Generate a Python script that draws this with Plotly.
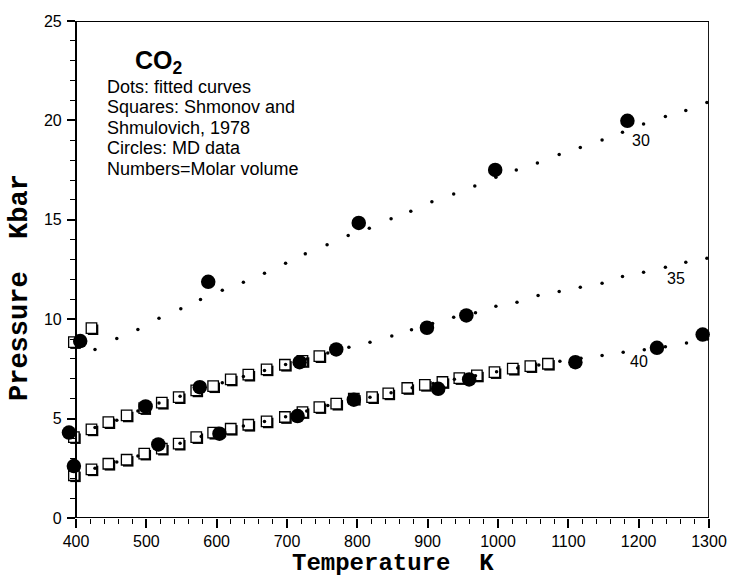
import plotly.graph_objects as go

# ---- Fitted curves (dots), molar volume 30 / 35 / 40 ----
fit30_T = [427, 458, 488, 518, 549, 577, 608, 638, 668, 698, 726, 757, 787, 817, 848,
           876, 906, 937, 967, 997, 1026, 1056, 1087, 1117, 1148, 1177, 1207, 1238, 1267, 1297]
fit30_P = [8.48, 9.03, 9.48, 10.05, 10.52, 10.99, 11.46, 11.86, 12.31, 12.81, 13.29, 13.74, 14.21, 14.57, 15.05,
           15.43, 15.91, 16.30, 16.70, 17.14, 17.51, 17.86, 18.28, 18.64, 19.01, 19.40, 19.82, 20.19, 20.50, 20.90]

fit35_T = [427, 458, 488, 518, 548, 578, 608, 638, 668, 698, 728, 758, 788, 818, 849,
           877, 907, 937, 968, 997, 1027, 1057, 1087, 1117, 1148, 1177, 1207, 1238, 1267, 1297]
fit35_P = [4.55, 4.92, 5.38, 5.78, 6.13, 6.48, 6.80, 7.12, 7.42, 7.72, 8.00, 8.30, 8.59, 8.84, 9.16,
           9.47, 9.78, 10.10, 10.32, 10.65, 10.85, 11.19, 11.39, 11.61, 11.81, 12.15, 12.36, 12.61, 12.86, 13.07]

fit40_T = [427, 458, 488, 518, 548, 578, 608, 638, 668, 698, 728, 758, 788, 818, 848,
           878, 908, 938, 968, 998, 1028, 1058, 1088, 1118, 1148, 1178, 1208, 1238, 1268, 1298]
fit40_P = [2.50, 2.82, 3.12, 3.45, 3.76, 4.10, 4.38, 4.63, 4.85, 5.09, 5.38, 5.66, 5.88, 6.08, 6.30,
           6.55, 6.77, 6.98, 7.16, 7.36, 7.55, 7.70, 7.89, 8.04, 8.18, 8.34, 8.46, 8.62, 8.80, 9.00]

# ---- Squares: Shmonov and Shmulovich, 1978 ----
sq30_T = [397, 422]
sq30_P = [8.85, 9.55]

sq35_T = [397, 422, 446, 472, 497, 522, 546, 571, 595, 620, 645, 671, 697, 722, 746]
sq35_P = [4.07, 4.46, 4.82, 5.16, 5.53, 5.80, 6.08, 6.42, 6.63, 6.97, 7.21, 7.48, 7.71, 7.90, 8.14]

sq40_T = [397, 422, 446, 472, 497, 522, 546, 571, 595, 620, 645, 671, 697, 722,
          746, 770, 795, 821, 844, 871, 896, 921, 945, 970, 995, 1021, 1046, 1071]
sq40_P = [2.15, 2.45, 2.73, 2.93, 3.24, 3.49, 3.74, 4.07, 4.29, 4.49, 4.69, 4.86, 5.08, 5.33,
          5.58, 5.75, 6.00, 6.08, 6.27, 6.54, 6.70, 6.84, 7.04, 7.17, 7.34, 7.51, 7.64, 7.76]

# ---- Circles: MD data ----
md30_T = [406, 588, 802, 996, 1184]
md30_P = [8.90, 11.88, 14.84, 17.51, 19.98]

md35_T = [390, 499, 576, 718, 770, 899, 955]
md35_P = [4.30, 5.61, 6.58, 7.84, 8.48, 9.57, 10.19]

md40_T = [397, 517, 604, 715, 795, 915, 959, 1110, 1226, 1291]
md40_P = [2.61, 3.70, 4.24, 5.13, 5.95, 6.50, 6.97, 7.84, 8.56, 9.23]

# ---- Labels ----
curve_labels = ["30", "35", "40"]
curve_label_T = [1203, 1253, 1200]
curve_label_P = [18.98, 12.05, 7.87]

info_title = "CO<sub>2</sub>"
info_lines = ["Dots: fitted curves", "Squares: Shmonov and", "Shmulovich, 1978",
              "Circles: MD data", "Numbers=Molar volume"]
info_line_P = [21.66, 20.65, 19.64, 18.62, 17.55]

x_ticks = [400, 500, 600, 700, 800, 900, 1000, 1100, 1200, 1300]
x_minor = [t for t in range(420, 1300, 20) if t % 100 != 0]
y_ticks = [0, 5, 10, 15, 20, 25]
x_frame = [400, 1300]
y_range = [0, 25]

SANS = "Liberation Sans, Arial, Helvetica, sans-serif"
MONO = "Liberation Mono, Courier New, monospace"

# ---- geometry (pixels) ----
W, H = 731, 577
ML, MR, MT, MB = 60, 22, 21, 59      # paper margins
AXIS_LEFT = 76                        # pixel position of the T=400 axis line
SHADOW = 1.6                          # px offset of the square drop-shadow
plot_w = W - ML - MR
plot_h = H - MT - MB
dom0 = (AXIS_LEFT - ML) / plot_w
k_per_px = (x_frame[1] - x_frame[0]) / (W - MR - AXIS_LEFT)
p_per_px = (y_range[1] - y_range[0]) / plot_h
x_range = [x_frame[0] - (AXIS_LEFT - ML) * k_per_px, x_frame[1]]
# hidden, slightly shifted scales used only to draw the squares' shadow
x_shadow = [x_range[0] - SHADOW * k_per_px, x_range[1] - SHADOW * k_per_px]
y_shadow = [y_range[0] + SHADOW * p_per_px, y_range[1] + SHADOW * p_per_px]

fig = go.Figure()

def add(T, P, xa, ya, **marker):
    fig.add_trace(go.Scatter(x=T, y=P, xaxis=xa, yaxis=ya, mode="markers", cliponaxis=False,
                             showlegend=False, hoverinfo="skip", marker=marker))

squares = [(sq30_T, sq30_P), (sq35_T, sq35_P), (sq40_T, sq40_P)]
# square shadows (layer x2/y2, below the x3/y3 layer)
for T, P in squares:
    add(T, P, "x2", "y2", symbol="square", size=10.5, color="black", line=dict(width=0))
# squares
for T, P in squares:
    add(T, P, "x3", "y3", symbol="square", size=10.5, color="white",
        line=dict(color="black", width=1.3))

# fitted dotted curves
for T, P in [(fit30_T, fit30_P), (fit35_T, fit35_P), (fit40_T, fit40_P)]:
    add(T, P, "x3", "y3", symbol="circle", size=3.5, color="black", line=dict(width=0))

# MD circles on top
for T, P in [(md30_T, md30_P), (md35_T, md35_P), (md40_T, md40_P)]:
    add(T, P, "x3", "y3", symbol="circle", size=14.5, color="black", line=dict(width=0))

annotations = []
for lab, T, P in zip(curve_labels, curve_label_T, curve_label_P):
    annotations.append(dict(x=T, y=P, xref="x", yref="y", text=lab, showarrow=False,
                            font=dict(family=SANS, size=16, color="black"),
                            xanchor="center", yanchor="middle"))

annotations.append(dict(x=481, y=22.95, xref="x", yref="y", text="<b>" + info_title + "</b>",
                        showarrow=False, font=dict(family=SANS, size=25, color="black"),
                        xanchor="left", yanchor="middle"))
for line, P in zip(info_lines, info_line_P):
    annotations.append(dict(x=441, y=P, xref="x", yref="y", text=line, showarrow=False,
                            font=dict(family=SANS, size=18, color="black"),
                            xanchor="left", yanchor="middle"))

annotations.append(dict(x=(393 - ML) / plot_w, y=(H - MB - 563.2) / plot_h,
                        xref="paper", yref="paper",
                        text="<b>Temperature  K</b>", showarrow=False,
                        font=dict(family=MONO, size=24, color="black"),
                        xanchor="center", yanchor="middle"))
annotations.append(dict(x=(20 - ML) / plot_w, y=(H - MB - 288) / plot_h,
                        xref="paper", yref="paper",
                        text="<b>Pressure  Kbar</b>", showarrow=False, textangle=-90,
                        font=dict(family=MONO, size=27, color="black"),
                        xanchor="center", yanchor="middle"))

# frame lines (bottom, top, right) spanning the 400-1300 axis
frame = [
    dict(type="line", xref="x", yref="y", x0=x_frame[0], x1=x_frame[1], y0=y_range[0], y1=y_range[0],
         line=dict(color="black", width=2.2)),
    dict(type="line", xref="x", yref="y", x0=x_frame[0], x1=x_frame[1], y0=y_range[1], y1=y_range[1],
         line=dict(color="black", width=1.8)),
    dict(type="line", xref="x", yref="y", x0=x_frame[1], x1=x_frame[1], y0=y_range[0], y1=y_range[1],
         line=dict(color="black", width=1.8)),
]

hidden = dict(visible=False, showgrid=False, zeroline=False)

fig.update_layout(
    width=W, height=H,
    margin=dict(l=ML, r=MR, t=MT, b=MB),
    paper_bgcolor="white", plot_bgcolor="white",
    showlegend=False,
    annotations=annotations,
    shapes=frame,
    xaxis=dict(domain=[0, 1], range=x_range, tickvals=x_ticks,
               ticktext=[str(v) for v in x_ticks], automargin=False,
               showgrid=False, zeroline=False, showline=False,
               ticks="outside", ticklen=9, tickwidth=1.5, tickcolor="black",
               ticklabelstandoff=0,
               tickfont=dict(family=SANS, size=16, color="black"),
               minor=dict(tickvals=x_minor, ticks="outside", ticklen=5, tickwidth=1.2,
                          tickcolor="black", showgrid=False)),
    yaxis=dict(range=y_range, tickvals=y_ticks, ticktext=[str(v) for v in y_ticks],
               anchor="free", position=dom0, automargin=False,
               showgrid=False, zeroline=False, showline=True, mirror=False,
               linecolor="black", linewidth=2.2,
               ticks="outside", ticklen=8, tickwidth=1.5, tickcolor="black",
               ticklabelstandoff=2,
               tickfont=dict(family=SANS, size=16, color="black"),
               minor=dict(dtick=1, ticks="outside", ticklen=5, tickwidth=1.2,
                          tickcolor="black", showgrid=False)),
    xaxis2=dict(overlaying="x", range=x_shadow, **hidden),
    yaxis2=dict(overlaying="y", range=y_shadow, **hidden),
    xaxis3=dict(overlaying="x", range=x_range, **hidden),
    yaxis3=dict(overlaying="y", range=y_range, **hidden),
)

fig.write_html("out.html", config={"displayModeBar": False},
               post_script="document.body.style.margin='0px';document.body.style.padding='0px';")
